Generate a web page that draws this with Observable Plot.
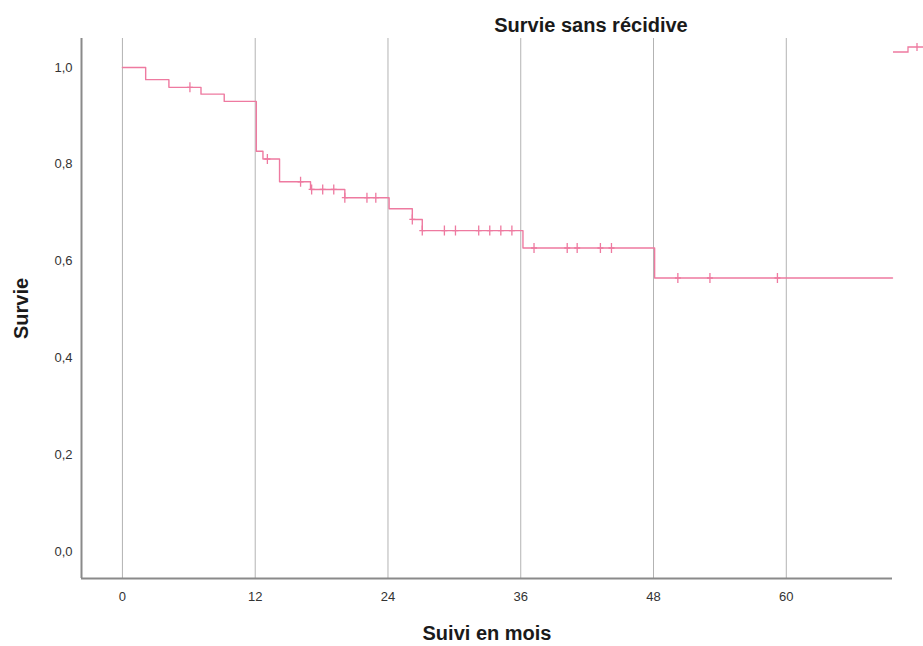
<!DOCTYPE html>
<html><head><meta charset="utf-8">
<script src="https://cdn.jsdelivr.net/npm/d3@7"></script>
<script src="https://cdn.jsdelivr.net/npm/@observablehq/plot@0.6"></script>
<style>
body{margin:0;background:#fff;font-family:"Liberation Sans",Arial,sans-serif;}
#wrap{position:relative;width:923px;height:646px;overflow:hidden;background:#fff;}
#title{position:absolute;left:391px;width:400px;top:14px;text-align:center;font-weight:bold;font-size:20px;color:#1a1a1a;}
#legend{position:absolute;left:893px;top:40px;}
#chart{position:absolute;left:0;top:0;}
</style></head>
<body>
<div id="wrap">
  <div id="chart"></div>
  <div id="title">Survie sans récidive</div>
  <svg id="legend" width="30" height="16"><path d="M0,12H15V7H30M24,3V11" fill="none" stroke="#ee7aa0" stroke-width="1.3"/></svg>
</div>
<script>
const times    = [0, 2.1, 4.2, 7.1, 9.2, 12.1, 12.7, 14.2, 17.0, 20.1, 24.1, 26.2, 27.1, 36.2, 48.1, 69.6];
const survival = [1.0, 0.975, 0.959, 0.945, 0.930, 0.827, 0.811, 0.764, 0.748, 0.731, 0.708, 0.686, 0.663, 0.627, 0.565, 0.565];
const censorTimes    = [6.1, 13.1, 16.1, 17.1, 18.1, 19.1, 20.1, 22.1, 22.9, 26.2, 27.1, 29.1, 30.1, 32.2, 33.2, 34.2, 35.2, 37.2, 40.2, 41.1, 43.2, 44.2, 50.2, 53.1, 59.2];
const censorSurvival = [0.959, 0.811, 0.764, 0.748, 0.748, 0.748, 0.731, 0.731, 0.731, 0.686, 0.663, 0.663, 0.663, 0.663, 0.663, 0.663, 0.663, 0.627, 0.627, 0.627, 0.627, 0.627, 0.565, 0.565, 0.565];
const xTicks = [0, 12, 24, 36, 48, 60];
const yTicks = [0, 0.2, 0.4, 0.6, 0.8, 1.0];
const xDomain = [-3.7, 69.6];
const yDomain = [-0.056, 1.06];

const curve = times.map((t, i) => ({t, s: survival[i]}));
const censors = censorTimes.map((t, i) => ({t, s: censorSurvival[i]}));
const color = "#ee7aa0";

const censorSymbol = {
  draw(ctx, size) {
    const r = 5;
    ctx.moveTo(0, -r); ctx.lineTo(0, r);
    ctx.moveTo(-3, 0); ctx.lineTo(3, 0);
  }
};

const chart = Plot.plot({
  width: 923, height: 646,
  marginLeft: 81, marginRight: 31, marginTop: 38, marginBottom: 68,
  style: {fontFamily: "Liberation Sans, Arial, sans-serif", background: "transparent"},
  x: {domain: xDomain},
  y: {domain: yDomain},
  marks: [
    Plot.ruleX(xTicks, {stroke: "#b3b3b3", strokeWidth: 1}),
    Plot.ruleX([xDomain[0]], {stroke: "#8a8a8a", strokeWidth: 2}),
    Plot.ruleY([yDomain[0]], {stroke: "#8a8a8a", strokeWidth: 2}),
    Plot.axisX(xTicks, {tickSize: 0, tickPadding: 13, fontSize: 13, fill: "#333", label: null}),
    Plot.axisY(yTicks, {tickSize: 0, tickPadding: 9, fontSize: 13, fill: "#333", label: null,
      tickFormat: d => d.toFixed(1).replace(".", ",")}),
    Plot.text(["Suivi en mois"], {frameAnchor: "bottom", lineAnchor: "middle", textAnchor: "middle", dy: 55, fontSize: 20, fontWeight: "bold", fill: "#1a1a1a"}),
    Plot.text(["Survie"], {frameAnchor: "left", textAnchor: "middle", lineAnchor: "middle", dx: -60, rotate: -90, fontSize: 20, fontWeight: "bold", fill: "#1a1a1a"}),
    Plot.line(curve, {x: "t", y: "s", curve: "step-after", stroke: color, strokeWidth: 1.4}),
    Plot.dot(censors, {x: "t", y: "s", symbol: censorSymbol, stroke: color, strokeWidth: 1.3, fill: "none", r: 5})
  ]
});
document.getElementById("chart").appendChild(chart);
</script>
</body></html>
